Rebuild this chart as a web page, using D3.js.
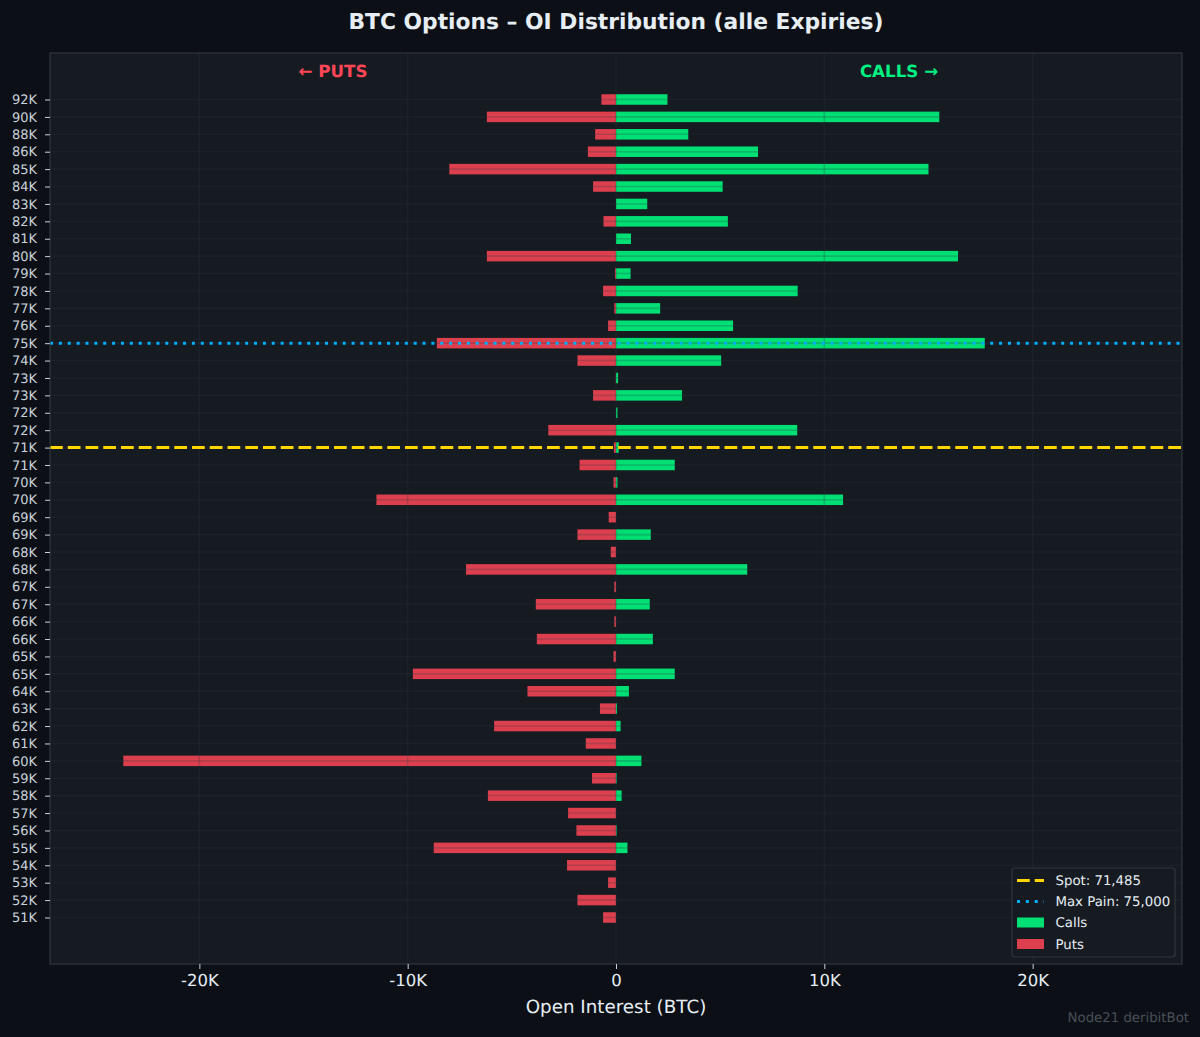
<!DOCTYPE html>
<html><head><meta charset="utf-8">
<script src="https://cdn.jsdelivr.net/npm/d3@7/dist/d3.min.js"></script>
<style>html,body{margin:0;padding:0;background:#0c1016}svg{display:block}text{font-family:"DejaVu Sans",sans-serif;text-rendering:geometricPrecision}</style>
</head><body><div id="c"></div>
<script>
const strikes=["92K","90K","88K","86K","85K","84K","83K","82K","81K","80K","79K","78K","77K","76K","75K","74K","73K","73K","72K","72K","71K","71K","70K","70K","69K","69K","68K","68K","67K","67K","66K","66K","65K","65K","64K","63K","62K","61K","60K","59K","58K","57K","56K","55K","54K","53K","52K","51K"];
const calls=[2.47,15.52,3.47,6.82,15.0,5.12,1.5,5.37,0.72,16.42,0.7,8.72,2.12,5.62,17.7,5.05,0.1,3.17,0.07,8.7,0.13,2.82,0.07,10.9,0,1.67,0,6.3,0,1.62,0,1.77,0,2.82,0.62,0.05,0.22,0,1.22,0.03,0.27,0,0.03,0.55,0,0,0,0];
const puts=[0.7,6.2,1.0,1.35,8.0,1.1,0,0.6,0,6.2,0.05,0.62,0.08,0.38,8.6,1.85,0.01,1.1,0,3.25,0.1,1.75,0.12,11.5,0.35,1.85,0.25,7.2,0.08,3.85,0.08,3.8,0.12,9.75,4.25,0.77,5.85,1.45,23.65,1.15,6.15,2.3,1.9,8.75,2.35,0.38,1.85,0.62];
const xTicks=[-20,-10,0,10,20];
const spotIndex=20, maxPainIndex=14;
const spotLabel="Spot: 71,485", maxPainLabel="Max Pain: 75,000";

const W=1200,H=1037,L=50,R=1182,T=53,B=964;
const svg=d3.select("#c").append("svg").attr("width",W).attr("height",H);
svg.append("rect").attr("width",W).attr("height",H).attr("fill","#0c1016");
const x=d3.scaleLinear().domain([-27.17,27.17]).range([L,R]);
const y=d3.scaleLinear().domain([-2.672,49.672]).range([T,B]);
const edge="#30363d", tickC="#c9d1d9", gridC="#30363d";
svg.append("rect").attr("x",L).attr("y",T).attr("width",R-L).attr("height",B-T).attr("fill","#161b22");

const barH=10.5;
const g=svg.append("g");
g.selectAll("rect.put").data(puts).join("rect").attr("class","put")
 .attr("x",d=>x(-d)).attr("width",d=>x(0)-x(-d)).attr("y",(d,i)=>y(i)-barH/2).attr("height",barH)
 .attr("fill","#ff4757").attr("fill-opacity",0.85);
g.selectAll("rect.call").data(calls).join("rect").attr("class","call")
 .attr("x",x(0)).attr("width",d=>x(d)-x(0)).attr("y",(d,i)=>y(i)-barH/2).attr("height",barH)
 .attr("fill","#00e676").attr("fill-opacity",0.97);

// grid above bars
const grid=svg.append("g");
grid.selectAll("line.h").data(strikes).join("line").attr("class","h")
 .attr("x1",L).attr("x2",R).attr("y1",(d,i)=>y(i)).attr("y2",(d,i)=>y(i))
 .attr("stroke",gridC).attr("stroke-opacity",0.24).attr("stroke-width",1.6);
grid.selectAll("line.v").data(xTicks).join("line").attr("class","v")
 .attr("y1",T).attr("y2",B).attr("x1",d=>x(d)).attr("x2",d=>x(d))
 .attr("stroke",gridC).attr("stroke-opacity",0.24).attr("stroke-width",1.6);

// reference lines
svg.append("line").attr("x1",L).attr("x2",R).attr("y1",y(spotIndex)).attr("y2",y(spotIndex))
 .attr("stroke","#ffd600").attr("stroke-width",3).attr("stroke-dasharray","12.75 5");
svg.append("line").attr("x1",L).attr("x2",R).attr("y1",y(maxPainIndex)).attr("y2",y(maxPainIndex))
 .attr("stroke","#00b0ff").attr("stroke-width",3).attr("stroke-dasharray","3 5.87");

// frame
svg.append("rect").attr("x",L).attr("y",T).attr("width",R-L).attr("height",B-T).attr("fill","none").attr("stroke",edge).attr("stroke-width",1.2);

// axes
const ya=d3.axisLeft(y).tickValues(d3.range(strikes.length)).tickFormat(i=>strikes[i]).tickSize(5).tickPadding(8);
const yg=svg.append("g").attr("transform",`translate(${L},0)`).call(ya);
yg.select(".domain").remove();
yg.selectAll("line").attr("stroke",tickC).attr("stroke-width",1);
yg.selectAll("text").attr("fill",tickC).attr("font-size",13).style("font-family",'"DejaVu Sans"');
const xa=d3.axisBottom(x).tickValues(xTicks).tickFormat(d=>d===0?"0":d+"K").tickSize(5).tickPadding(5);
const xg=svg.append("g").attr("transform",`translate(0,${B})`).call(xa);
xg.select(".domain").remove();
xg.selectAll("line").attr("stroke",tickC).attr("stroke-width",1);
xg.selectAll("text").attr("fill","#e6edf3").attr("font-size",16.5).style("font-family",'"DejaVu Sans"');

// titles
svg.append("text").attr("x",616).attr("y",28.5).attr("text-anchor","middle").attr("font-size",21.8).attr("font-weight","bold").attr("fill","#e6edf3").text("BTC Options – OI Distribution (alle Expiries)");
svg.append("text").attr("x",616).attr("y",1013).attr("text-anchor","middle").attr("font-size",18.3).attr("fill","#e6edf3").text("Open Interest (BTC)");
svg.append("text").attr("x",333).attr("y",77).attr("text-anchor","middle").attr("font-size",16.7).attr("font-weight","bold").attr("fill","#ff4757").text("← PUTS");
svg.append("text").attr("x",899).attr("y",77).attr("text-anchor","middle").attr("font-size",16.7).attr("font-weight","bold").attr("fill","#00f082").text("CALLS →");
svg.append("text").attr("x",1189).attr("y",1022).attr("text-anchor","end").attr("font-size",13.3).attr("fill","#484f58").text("Node21 deribitBot");

// legend
const lg=svg.append("g");
lg.append("rect").attr("x",1012).attr("y",868).attr("width",163).attr("height",89).attr("rx",3).attr("fill","#161b22").attr("stroke",edge).attr("stroke-width",1.2);
const rows=[880.5,901.5,922.5,944];
lg.append("line").attr("x1",1017).attr("x2",1044).attr("y1",rows[0]).attr("y2",rows[0]).attr("stroke","#ffd600").attr("stroke-width",3).attr("stroke-dasharray","12.75 5");
lg.append("line").attr("x1",1017).attr("x2",1044).attr("y1",rows[1]).attr("y2",rows[1]).attr("stroke","#00b0ff").attr("stroke-width",3).attr("stroke-dasharray","3 5.87");
lg.append("rect").attr("x",1017).attr("y",rows[2]-5).attr("width",27).attr("height",10).attr("fill","#00e676").attr("fill-opacity",0.97);
lg.append("rect").attr("x",1017).attr("y",rows[3]-5).attr("width",27).attr("height",10).attr("fill","#ff4757").attr("fill-opacity",0.85);
[spotLabel,maxPainLabel,"Calls","Puts"].forEach((t,i)=>{
 lg.append("text").attr("x",1055.5).attr("y",rows[i]+4.5).attr("font-size",13.3).attr("fill","#e6edf3").text(t);
});
</script></body></html>
